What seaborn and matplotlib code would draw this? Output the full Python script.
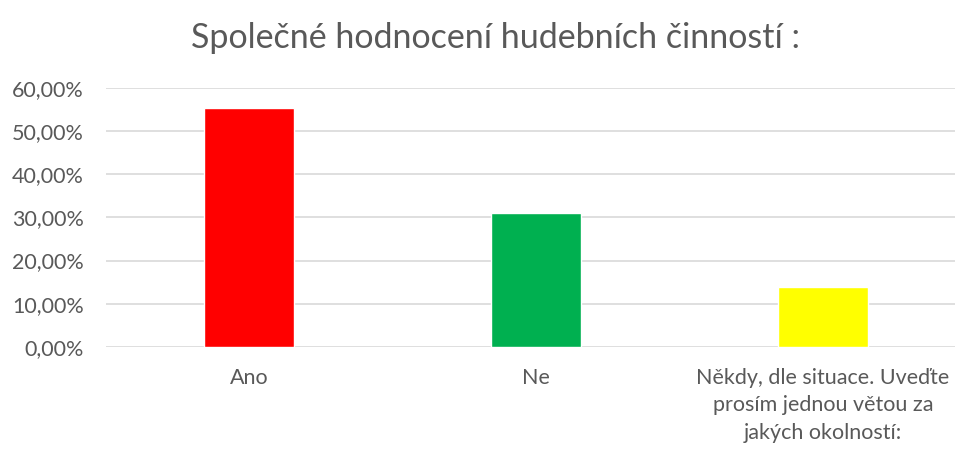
import matplotlib
matplotlib.use("Agg")
import matplotlib.pyplot as plt
from matplotlib.ticker import FuncFormatter
import pandas as pd
import seaborn as sns

# data
categories = ["Ano", "Ne", "Někdy, dle situace. Uveďte\nprosím jednou větou za\njakých okolností:"]
shares = [0.553, 0.309, 0.138]
bar_colors = ["#ff0000", "#00b050", "#ffff00"]
y_ticks = [0.0, 0.1, 0.2, 0.3, 0.4, 0.5, 0.6]

sns.set_style("white")
plt.rcParams['font.family'] = ['Lato', 'DejaVu Sans']

df = pd.DataFrame({"kategorie": categories, "podil": shares})

fig = plt.figure(figsize=(9.65, 4.49), dpi=100)
ax = fig.add_axes([106 / 965, 102 / 449, 849 / 965, 259.4 / 449])

sns.barplot(data=df, x="kategorie", y="podil", hue="kategorie",
            palette=bar_colors, width=0.314, legend=False, ax=ax,
            saturation=1)

ax.set_ylim(0, 0.6)
ax.set_xlim(-0.5, 2.46)
ax.set_yticks(y_ticks)
ax.yaxis.set_major_formatter(FuncFormatter(lambda v, p: ("%.2f%%" % (v * 100)).replace(".", ",")))
ax.yaxis.grid(True, color="#d9d9d9", linewidth=1.2)
ax.set_axisbelow(True)
for s in ax.spines.values():
    s.set_visible(False)
ax.tick_params(axis="both", length=0, colors="#595959", labelsize=15.5)
ax.tick_params(axis="x", pad=15)
ax.tick_params(axis="y", pad=16)
for lbl in ax.get_xticklabels():
    lbl.set_linespacing(1.47)
ax.set_xlabel("")
ax.set_ylabel("")

fig.text(0.513, 0.915, "Společné hodnocení hudebních činností :", ha="center", va="center",
         fontsize=24.5, color="#595959")

fig.savefig("out.png", dpi=100)
